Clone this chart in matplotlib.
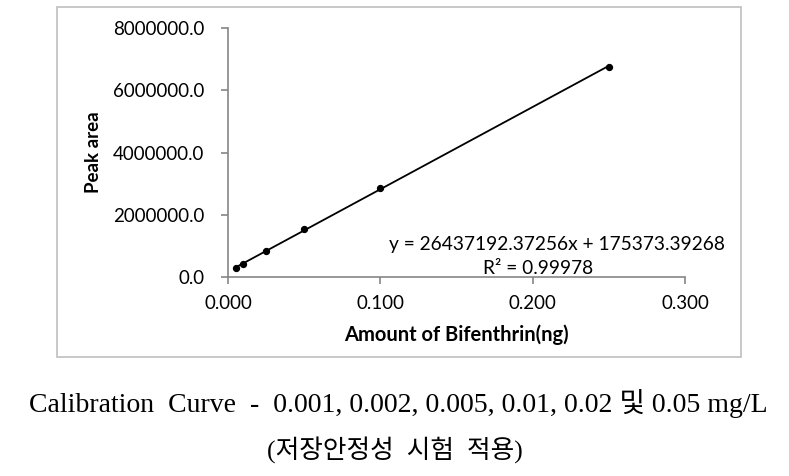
import numpy as np
import matplotlib.pyplot as plt
from matplotlib.patches import Rectangle

# calibration data
amount = [0.005, 0.010, 0.025, 0.050, 0.100, 0.250]
area = [300000, 420000, 830000, 1530000, 2870000, 6760000]
slope = 26437192.37256
intercept = 175373.39268
r2 = 0.99978
xticks = [0.0, 0.1, 0.2, 0.3]
yticks = [0, 2000000, 4000000, 6000000, 8000000]

fsans = ['Lato', 'DejaVu Sans']
fserif = ['Liberation Serif', 'Noto Sans CJK KR']

fig = plt.figure(figsize=(7.89, 4.76), dpi=100)
# chart frame
fig.patches.append(Rectangle((57/789, 1-357/476), (741-57)/789, (357-7)/476,
                             transform=fig.transFigure, fill=False,
                             edgecolor='#bfbfbf', linewidth=1.2))

ax = fig.add_axes([228/789, 1-277/476, (685-228)/789, (277-28)/476])
xfit = np.array([min(amount), max(amount)])
ax.plot(xfit, slope*xfit + intercept, color='black', linewidth=1.3)
ax.scatter(amount, area, color='black', s=18, zorder=3)

ax.set_xlim(0, 0.3)
ax.set_ylim(0, 8000000)
ax.set_xticks(xticks)
ax.set_yticks(yticks)
ax.set_xticklabels(['%.3f' % v for v in xticks], family=fsans, fontsize=13.5)
ax.set_yticklabels(['%.1f' % v for v in yticks], family=fsans, fontsize=13.5)
for s in ['top', 'right']:
    ax.spines[s].set_visible(False)
for s in ['left', 'bottom']:
    ax.spines[s].set_color('#868686')
    ax.spines[s].set_linewidth(1.2)
ax.tick_params(colors='#868686', labelcolor='black', length=5, width=1.2)
ax.tick_params(axis='x', pad=8)
ax.tick_params(axis='y', pad=12)
ax.set_xlabel('Amount of Bifenthrin(ng)', family=fsans, fontsize=14.5,
              fontweight='bold', labelpad=9)
ax.set_ylabel('Peak area', family=fsans, fontsize=13.5, fontweight='bold', labelpad=8)

ax.text(0.326, 1040000, 'y = %.5fx + %.5f' % (slope, intercept), ha='right',
        va='center', family=fsans, fontsize=13.8)
ax.text(0.2033, 260000, 'R² = %.5f' % r2, ha='center', va='center',
        family=fsans, fontsize=13.8)

fig.text(398/789, 1-403/476, 'Calibration  Curve  -  0.001, 0.002, 0.005, 0.01, 0.02 및 0.05 mg/L',
         ha='center', va='center', family=fserif, fontsize=20)
fig.text(395/789, 1-450/476, '(저장안정성  시험  적용)', ha='center', va='center',
         family=fserif, fontsize=18.5)

fig.savefig('out.png', dpi=100)
